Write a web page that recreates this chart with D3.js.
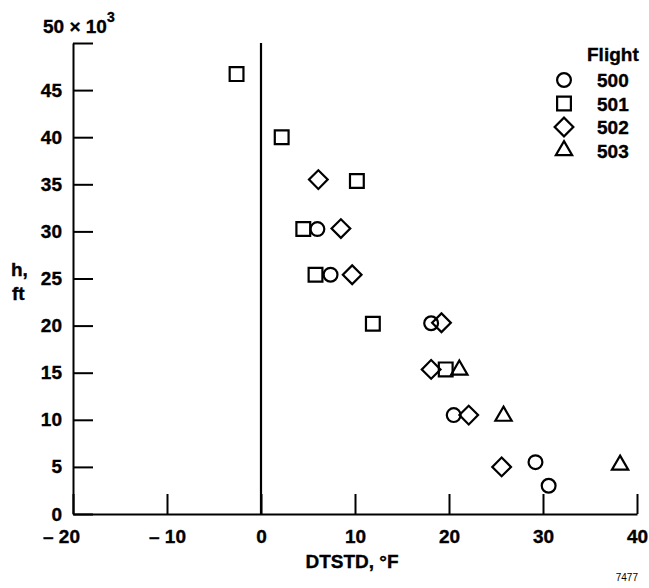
<!DOCTYPE html>
<html>
<head>
<meta charset="utf-8">
<script src="https://cdn.jsdelivr.net/npm/d3@7"></script>
<style>
  body { margin: 0; background: #fff; }
  text { font-family: "Liberation Sans", Arial, Helvetica, sans-serif; fill: #000; }
  .bold { font-weight: bold; stroke: #000; stroke-width: 0.35px; }
</style>
</head>
<body>
<div id="chart"></div>
<script>
// flights and their readings (DTSTD in deg F, altitude in thousands of ft)
var flights = ["500", "501", "502", "503"];
var dtstd500 = [6.0, 7.4, 18.1, 20.5, 29.2, 30.6];
var alt500   = [30.25, 25.4, 20.25, 10.5, 5.5, 3.0];
var dtstd501 = [-2.6, 2.2, 10.2, 4.5, 5.8, 11.9, 19.65];
var alt501   = [46.7, 40.0, 35.35, 30.25, 25.4, 20.2, 15.35];
var dtstd502 = [6.1, 8.5, 9.7, 19.2, 18.1, 22.1, 25.6];
var alt502   = [35.5, 30.3, 25.4, 20.3, 15.35, 10.5, 5.0];
var dtstd503 = [21.1, 25.8, 38.2];
var alt503   = [15.3, 10.4, 5.2];
var xTicks = [-20, -10, 0, 10, 20, 30, 40];
var yTicks = [0, 5, 10, 15, 20, 25, 30, 35, 40, 45, 50];

var width = 649, height = 588;

var svg = d3.select("#chart")
  .append("svg")
    .attr("width", width)
    .attr("height", height);

// scales
var x = d3.scaleLinear()
  .domain([-20, 40])
  .range([73, 637]);
var y = d3.scaleLinear()
  .domain([0, 50])
  .range([514, 43]);

// x axis, ticks pointing up into the plot
var xAxis = svg.append("g")
  .attr("transform", "translate(0," + y(0) + ")")
  .call(d3.axisBottom(x)
    .tickValues(xTicks)
    .tickSizeInner(-20)
    .tickSizeOuter(0)
    .tickPadding(16)
    .tickFormat(function (d) { return d < 0 ? "\u2013 " + Math.abs(d) : d; }));
xAxis.selectAll("text")
  .attr("class", "bold")
  .style("font-size", "19px")
  .attr("dx", function (d) { return d == -20 ? "-12" : null; });

// y axis, ticks pointing right
var yAxis = svg.append("g")
  .attr("transform", "translate(" + x(-20) + ",0)")
  .call(d3.axisLeft(y)
    .tickValues(yTicks)
    .tickSizeInner(-20)
    .tickSizeOuter(0)
    .tickPadding(11)
    .tickFormat(function (d) { return d == 50 ? "" : d; }));
yAxis.selectAll("text")
  .attr("class", "bold")
  .style("font-size", "19px");

svg.selectAll(".domain, .tick line")
  .attr("stroke", "#000")
  .attr("stroke-width", 2);

// vertical line at DTSTD = 0
svg.append("line")
  .attr("x1", x(0)).attr("x2", x(0))
  .attr("y1", y(50)).attr("y2", y(0))
  .attr("stroke", "#000")
  .attr("stroke-width", 2.2);

// top y label with the multiplier
var topLabel = svg.append("text")
  .attr("class", "bold")
  .attr("x", 43)
  .attr("y", 33)
  .style("font-size", "19px");
topLabel.append("tspan").text("50 \u00d7 10");
topLabel.append("tspan").attr("dy", -11).style("font-size", "14px").text("3");

// axis titles
svg.append("text").attr("class", "bold").attr("x", 11).attr("y", 276)
  .style("font-size", "19px").text("h,");
svg.append("text").attr("class", "bold").attr("x", 12).attr("y", 300)
  .style("font-size", "19px").text("ft");
svg.append("text")
  .attr("class", "bold")
  .attr("x", 352).attr("y", 568)
  .attr("text-anchor", "middle")
  .style("font-size", "19px")
  .text("DTSTD, \u00b0F");
svg.append("text")
  .attr("x", 638).attr("y", 581)
  .attr("text-anchor", "end")
  .style("font-size", "10px")
  .text("7477");

// marker shapes, one per flight
var shapes = {
  "500": { type: d3.symbolCircle, size: 150, rot: 0 },
  "501": { type: d3.symbolSquare, size: 190, rot: 0 },
  "502": { type: d3.symbolSquare, size: 175, rot: 45 },
  "503": { type: d3.symbolTriangle, size: 115, rot: 0 }
};
var series = {
  "500": [dtstd500, alt500],
  "501": [dtstd501, alt501],
  "502": [dtstd502, alt502],
  "503": [dtstd503, alt503]
};

function drawMarker(g, flight, px, py) {
  var s = shapes[flight];
  g.append("path")
    .attr("d", d3.symbol().type(s.type).size(s.size)())
    .attr("transform", "translate(" + px + "," + py + ") rotate(" + s.rot + ")")
    .attr("fill", "none")
    .attr("stroke", "#000")
    .attr("stroke-width", 2.2);
}

// data points
var points = svg.append("g");
flights.forEach(function (f) {
  var xs = series[f][0], hs = series[f][1];
  for (var i = 0; i < xs.length; i++) {
    drawMarker(points, f, x(xs[i]), y(hs[i]));
  }
});

// legend
svg.append("text")
  .attr("class", "bold")
  .attr("x", 587).attr("y", 61)
  .style("font-size", "19px")
  .text("Flight");
var legend = svg.append("g");
flights.forEach(function (f, i) {
  var ly = 80 + i * 23.5;
  drawMarker(legend, f, 564, ly);
  legend.append("text")
    .attr("class", "bold")
    .attr("x", 597).attr("y", ly + 7)
    .style("font-size", "19px")
    .text(f);
});
</script>
</body>
</html>
